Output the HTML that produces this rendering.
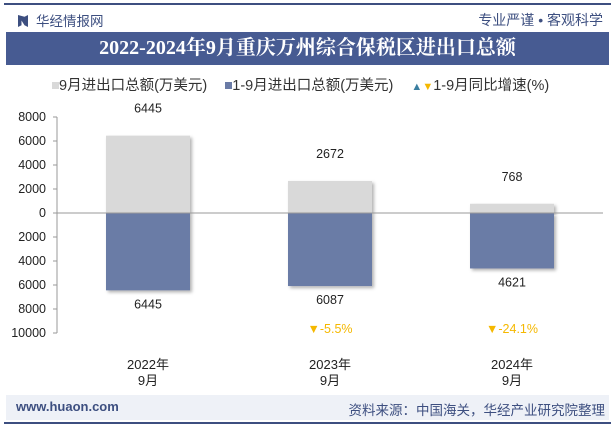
<!DOCTYPE html>
<html><head><meta charset="utf-8"><style>
body{margin:0;width:615px;height:427px;background:#fff;font-family:"Liberation Sans","Noto Sans CJK SC",sans-serif;overflow:hidden;position:relative}
.abs{position:absolute}
</style></head><body>
<div class="abs" style="left:4px;top:3px;width:607px;height:2px;background:#3d4f80"></div>
<div class="abs" style="left:18px;top:10px;font-size:13.5px;color:#3d4f80"><span style="display:inline-block;width:10px;height:12px;background:#3d4f80;vertical-align:-1px;margin-right:8px;clip-path:polygon(0 0,35% 15%,35% 85%,0 100%,0 0,65% 15%,100% 0,100% 100%,65% 85%)"></span>华经情报网</div>
<div class="abs" style="right:12px;top:10px;font-size:14px;color:#3d4f80">专业严谨 • 客观科学</div>
<div class="abs" style="left:6px;top:32px;width:603px;height:33px;background:#475b92;color:#fff;font-size:20px;font-weight:bold;text-align:center;line-height:33px;font-family:'Liberation Serif','Noto Serif CJK SC',serif">2022-2024年9月重庆万州综合保税区进出口总额</div>
<div class="abs" style="left:52px;top:74px;font-size:14.5px;color:#333;white-space:nowrap">
<span><span style="display:inline-block;width:7px;height:7px;background:#d9d9d9;vertical-align:1px"></span>9月进出口总额(万美元)</span>
<span style="margin-left:14px"><span style="display:inline-block;width:7px;height:7px;background:#6a7ba6;vertical-align:1px"></span>1-9月进出口总额(万美元)</span>
<span style="margin-left:14px"><span style="color:#3a7ea0;font-size:11px">▲</span><span style="color:#f5b800;font-size:11px">▼</span>1-9月同比增速(%)</span>
</div>
<svg class="abs" style="left:0;top:0" width="615" height="427" id="chart">
<defs><filter id="sh" x="-10%" y="-10%" width="130%" height="130%"><feDropShadow dx="2" dy="2" stdDeviation="1.5" flood-color="#000" flood-opacity="0.3"/></filter></defs>
</svg>
<div class="abs" style="left:6px;top:395px;width:603px;height:25px;background:#eef1f7"></div>
<div class="abs" style="left:16px;top:399px;font-size:13px;font-weight:bold;color:#3d4f80">www.huaon.com</div>
<div class="abs" style="right:10px;top:399px;font-size:13.5px;color:#3d4f80">资料来源：中国海关，华经产业研究院整理</div>
<div class="abs" style="left:4px;top:422px;width:607px;height:2px;background:#3d4f80"></div>
<script>
const categories=["2022年|9月","2023年|9月","2024年|9月"];
const monthly=[6445,2672,768];
const cumulative=[6445,6087,4621];
const growth=[null,-5.5,-24.1];
const yTicks=[8000,6000,4000,2000,0,2000,4000,6000,8000,10000];
const yTickVals=[8000,6000,4000,2000,0,-2000,-4000,-6000,-8000,-10000];
const svg=document.getElementById('chart');
const NS='http://www.w3.org/2000/svg';
const x0=57,x1=603,y0=213,pp=12/1000;
const y=v=>y0-v*pp;
const band=(x1-x0)/categories.length;
const cx=i=>x0+band*(i+0.5);
function mk(t,a,txt){const e=document.createElementNS(NS,t);for(const k in a)e.setAttribute(k,a[k]);if(txt!=null)e.textContent=txt;svg.appendChild(e);return e;}
let ax=mk('line',{x1:x0,y1:y(8000),x2:x0,y2:y(-10000),stroke:'#999'});


yTickVals.forEach((v,i)=>{
 let t=mk('line',{x1:x0-4,y1:y(v),x2:x0,y2:y(v),stroke:'#999'});
 
 
 let l=mk('text',{x:46,y:y(v)+4,'text-anchor':'end','font-size':12.5,fill:'#222'},yTicks[i]);
 
 
});
categories.forEach((c,i)=>{
 const w=84,bx=cx(i)-w/2;
 let b1=mk('rect',{x:bx,y:y(monthly[i]),width:w,height:monthly[i]*pp,fill:'#d9d9d9',filter:'url(#sh)'});
 
 
 let b2=mk('rect',{x:bx,y:y0,width:w,height:cumulative[i]*pp,fill:'#6a7ba6',filter:'url(#sh)'});
 
 
 let l1=mk('text',{x:cx(i),y:y(monthly[i])-23,'text-anchor':'middle','font-size':12.5,fill:'#222'},monthly[i]);
 
 
 let l2=mk('text',{x:cx(i),y:y(-cumulative[i])+18,'text-anchor':'middle','font-size':12.5,fill:'#222'},cumulative[i]);
 
 
 if(growth[i]!=null){
  let g=mk('text',{x:cx(i),y:333,'text-anchor':'middle','font-size':12.5,fill:'#f5b800'},(growth[i]<0?'▼':'▲')+growth[i]+'%');
  
  
 }
 const p=c.split('|');
 let c1=mk('text',{x:cx(i),y:369,'text-anchor':'middle','font-size':13,fill:'#222'},p[0]);
 
 
 let c2=mk('text',{x:cx(i),y:385,'text-anchor':'middle','font-size':13,fill:'#222'},p[1]);
 
 
});
let zl=mk('line',{x1:x0,y1:y0,x2:x1,y2:y0,stroke:'#999'});


</script>
</body></html>
